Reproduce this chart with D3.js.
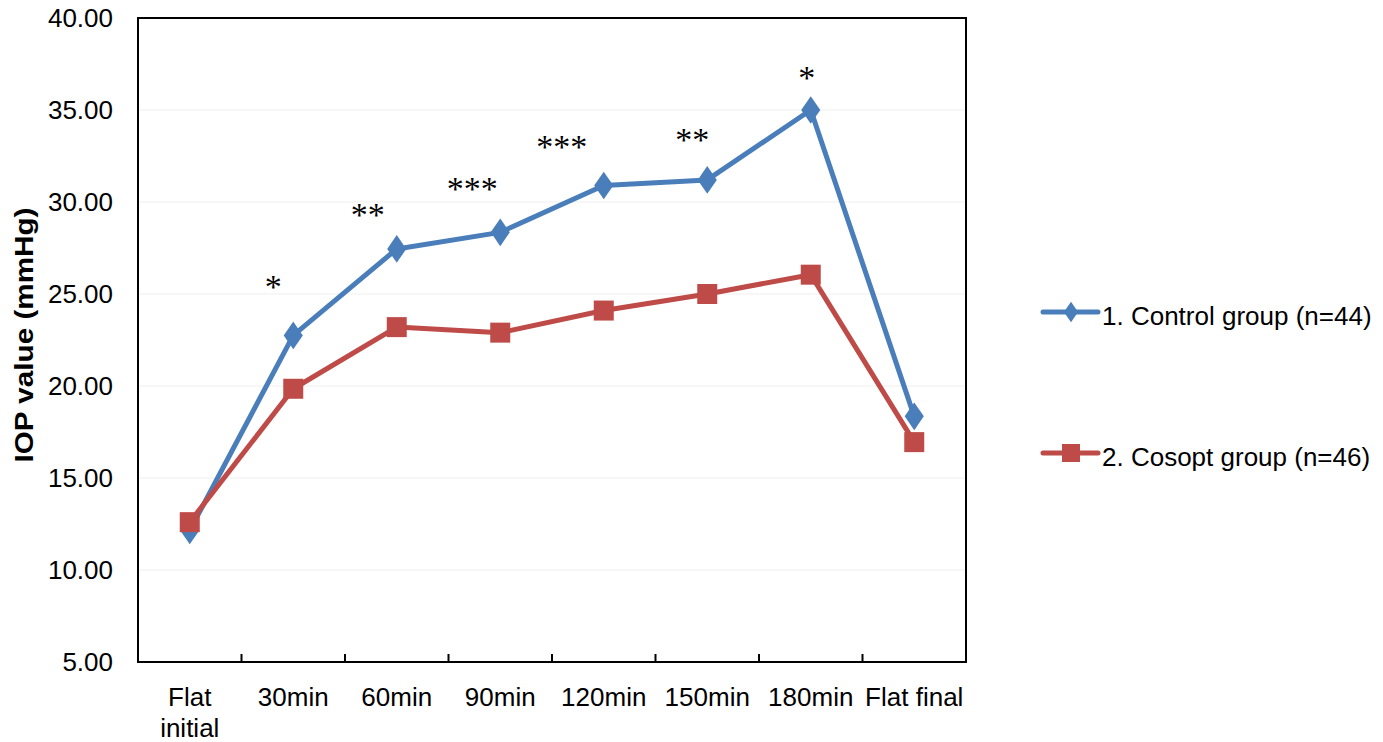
<!DOCTYPE html>
<html>
<head>
<meta charset="utf-8">
<script src="https://cdn.jsdelivr.net/npm/d3@7"></script>
<style>
  body { margin: 0; background: #fff; }
  text { font-family: "Liberation Sans", Arial, sans-serif; fill: #000; }
</style>
</head>
<body>
<div id="chart"></div>
<script>
// data
var categories = ["Flat initial", "30min", "60min", "90min", "120min", "150min", "180min", "Flat final"];
var controlValues = [12.15, 22.75, 27.45, 28.35, 30.9, 31.2, 35.0, 18.35];
var cosoptValues = [12.6, 19.85, 23.2, 22.9, 24.1, 25.0, 26.05, 16.95];
var seriesNames = ["1. Control group (n=44)", "2. Cosopt group (n=46)"];
var yTicks = [5, 10, 15, 20, 25, 30, 35, 40];
// significance marks (category, label, level in mmHg)
var starCategories = ["30min", "60min", "90min", "120min", "150min", "180min"];
var starLabels = ["*", "**", "***", "***", "**", "*"];
var starLevels = [25.8, 29.75, 31.15, 33.45, 33.8, 37.15];

var width = 1383;
var height = 742;
var margin = {top: 18, right: 417, bottom: 80, left: 138};

var svg = d3.select("#chart")
  .append("svg")
  .attr("width", width)
  .attr("height", height);

// scales
var x = d3.scaleBand()
  .domain(categories)
  .range([margin.left, width - margin.right])
  .padding(0);

var y = d3.scaleLinear()
  .domain([5, 40])
  .range([height - margin.bottom, margin.top]);

var blue = "#4a7ebb";
var red = "#be4b48";

// gridlines
svg.append("g")
  .selectAll("line")
  .data(yTicks)
  .enter().append("line")
  .attr("x1", margin.left)
  .attr("x2", width - margin.right)
  .attr("y1", function(d) { return y(d); })
  .attr("y2", function(d) { return y(d); })
  .attr("stroke", "#efefef")
  .attr("stroke-width", 1);

// y axis labels (no tick marks)
svg.append("g")
  .selectAll("text")
  .data(yTicks)
  .enter().append("text")
  .attr("x", margin.left - 25)
  .attr("y", function(d) { return y(d); })
  .attr("dy", "0.35em")
  .attr("text-anchor", "end")
  .attr("font-size", "26px")
  .text(function(d) { return d.toFixed(2); });

// x ticks at band boundaries, pointing up
var bounds = categories.slice(1).map(function(c) { return x(c); });
svg.append("g")
  .selectAll("line")
  .data(bounds)
  .enter().append("line")
  .attr("x1", function(d) { return d; })
  .attr("x2", function(d) { return d; })
  .attr("y1", y(5))
  .attr("y2", y(5) - 8)
  .attr("stroke", "#000")
  .attr("stroke-width", 2);

// x labels, wrapped when too long for the band
var xLabels = svg.append("g")
  .selectAll("text")
  .data(categories)
  .enter().append("text")
  .attr("x", function(d) { return x(d) + x.bandwidth() / 2; })
  .attr("y", y(5) + 44)
  .attr("text-anchor", "middle")
  .attr("font-size", "26px");

xLabels.each(function(d) {
  var t = d3.select(this);
  t.text(d);
  if (this.getComputedTextLength() > x.bandwidth()) {
    t.text(null);
    d.split(" ").forEach(function(w, i) {
      t.append("tspan")
        .attr("x", x(d) + x.bandwidth() / 2)
        .attr("dy", i === 0 ? 0 : 31)
        .text(w);
    });
  }
});

// frame
svg.append("rect")
  .attr("x", margin.left)
  .attr("y", margin.top)
  .attr("width", width - margin.right - margin.left)
  .attr("height", height - margin.bottom - margin.top)
  .attr("fill", "none")
  .attr("stroke", "#000")
  .attr("stroke-width", 2);

// y axis title
svg.append("text")
  .attr("transform", "translate(33," + 335 + ") rotate(-90)")
  .attr("text-anchor", "middle")
  .attr("font-size", "25px")
  .attr("font-weight", "bold")
  .attr("textLength", 255)
  .attr("lengthAdjust", "spacingAndGlyphs")
  .text("IOP value (mmHg)");

var line = d3.line()
  .x(function(d, i) { return x(categories[i]) + x.bandwidth() / 2; })
  .y(function(d) { return y(d); });

// control series
svg.append("path")
  .datum(controlValues)
  .attr("d", line)
  .attr("fill", "none")
  .attr("stroke", blue)
  .attr("stroke-width", 5)
  .attr("stroke-linejoin", "round");

svg.append("g")
  .selectAll("path")
  .data(controlValues)
  .enter().append("path")
  .attr("d", d3.symbol(d3.symbolDiamond, 220))
  .attr("transform", function(d, i) {
    return "translate(" + (x(categories[i]) + x.bandwidth() / 2) + "," + y(d) + ") scale(1.2,1)";
  })
  .attr("fill", blue);

// cosopt series
svg.append("path")
  .datum(cosoptValues)
  .attr("d", line)
  .attr("fill", "none")
  .attr("stroke", red)
  .attr("stroke-width", 5)
  .attr("stroke-linejoin", "round");

svg.append("g")
  .selectAll("rect")
  .data(cosoptValues)
  .enter().append("rect")
  .attr("x", function(d, i) { return x(categories[i]) + x.bandwidth() / 2 - 10; })
  .attr("y", function(d) { return y(d) - 10; })
  .attr("width", 20)
  .attr("height", 20)
  .attr("fill", red);

// significance asterisks
var starShift = [-20, -29, -28, -42, -15, -4];
svg.append("g")
  .selectAll("text")
  .data(starLabels)
  .enter().append("text")
  .attr("x", function(d, i) { return x(starCategories[i]) + x.bandwidth() / 2 + starShift[i]; })
  .attr("y", function(d, i) { return y(starLevels[i]) + 19; })
  .attr("text-anchor", "middle")
  .attr("font-size", "34px")
  .attr("fill", "#222")
  .style("font-family", "'Liberation Serif', 'Times New Roman', serif")
  .text(function(d) { return d; });

// legend
var legendY = [312, 453];
var legend = svg.append("g")
  .selectAll("g")
  .data(seriesNames)
  .enter().append("g")
  .attr("transform", function(d, i) { return "translate(1043," + legendY[i] + ")"; });

legend.append("line")
  .attr("x1", 0)
  .attr("x2", 55)
  .attr("stroke", function(d, i) { return i === 0 ? blue : red; })
  .attr("stroke-width", 5)
  .attr("stroke-linecap", "round");

legend.filter(function(d, i) { return i === 0; })
  .append("path")
  .attr("d", d3.symbol(d3.symbolDiamond, 120))
  .attr("transform", "translate(28,0) scale(1.2,1)")
  .attr("fill", blue);

legend.filter(function(d, i) { return i === 1; })
  .append("rect")
  .attr("x", 19)
  .attr("y", -9)
  .attr("width", 18)
  .attr("height", 18)
  .attr("fill", red);

legend.append("text")
  .attr("x", 59)
  .attr("y", 4)
  .attr("dy", "0.35em")
  .attr("font-size", "26px")
  .text(function(d) { return d; });
</script>
</body>
</html>
